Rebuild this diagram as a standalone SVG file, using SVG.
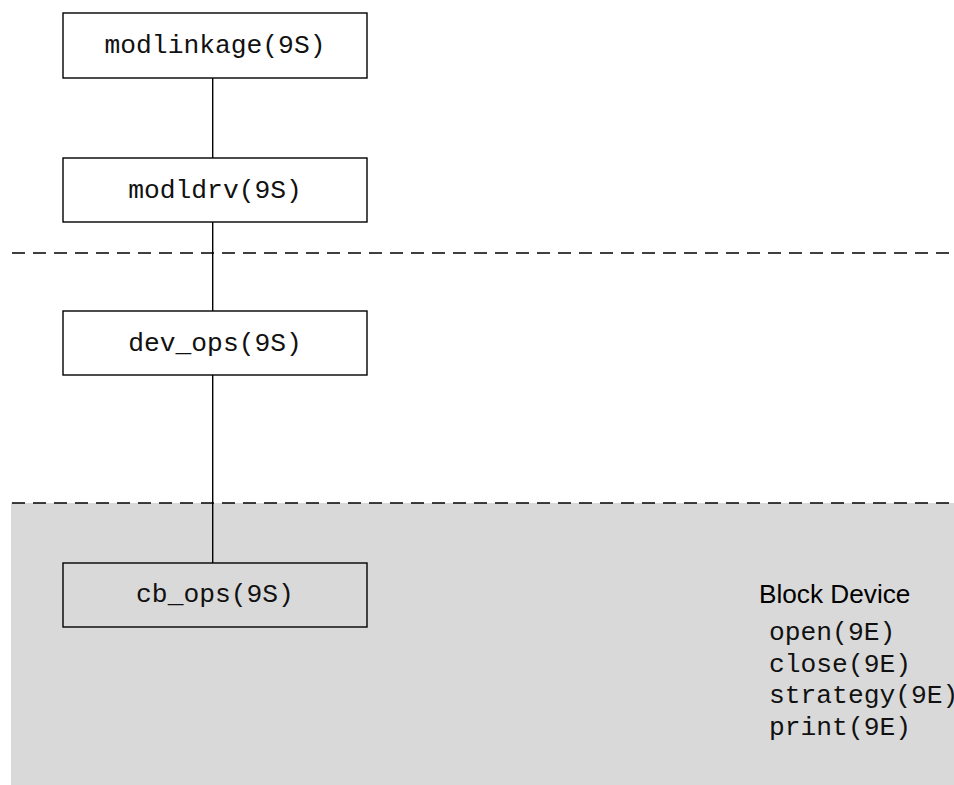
<svg xmlns="http://www.w3.org/2000/svg" width="954" height="785" viewBox="0 0 954 785">
<style>
.box{fill:#fff;stroke:#000;stroke-width:1.4}
.gbox{fill:#d9d9d9;stroke:#000;stroke-width:1.4}
.mono{font-family:"Liberation Mono","Courier New",monospace;font-size:26.3px;fill:#111}
.lbl{text-anchor:middle}
.sans{font-family:"Liberation Sans",Arial,sans-serif;font-size:26.2px;fill:#000}
.conn{stroke:#000;stroke-width:1.4;fill:none}
.dash{stroke:#000;stroke-width:1.5;stroke-dasharray:13 8;fill:none}
</style>
<rect width="954" height="785" fill="#fff"/>
<rect id="block-region" x="11" y="503" width="943" height="282" fill="#d9d9d9"/>
<g id="separators">
<line class="dash" x1="12" y1="253" x2="954" y2="253"/>
<line class="dash" x1="12" y1="503" x2="954" y2="503"/>
</g>
<g id="connectors">
<line class="conn" x1="212.7" y1="78" x2="212.7" y2="158"/>
<line class="conn" x1="212.7" y1="222" x2="212.7" y2="311"/>
<line class="conn" x1="212.7" y1="375" x2="212.7" y2="563"/>
</g>
<g id="modlinkage">
<rect class="box" x="63" y="13" width="304" height="65"/>
<text class="mono lbl" x="215" y="53">modlinkage(9S)</text>
</g>
<g id="modldrv">
<rect class="box" x="63" y="158" width="304" height="64"/>
<text class="mono lbl" x="215" y="198">modldrv(9S)</text>
</g>
<g id="dev_ops">
<rect class="box" x="63" y="311" width="304" height="64"/>
<text class="mono lbl" x="215" y="351">dev_ops(9S)</text>
</g>
<g id="cb_ops">
<rect class="gbox" x="63" y="563" width="304" height="64"/>
<text class="mono lbl" x="215" y="602">cb_ops(9S)</text>
</g>
<g id="block-device">
<text class="sans" x="759" y="603">Block Device</text>
<text class="mono" x="769" y="640">open(9E)</text>
<text class="mono" x="769" y="672">close(9E)</text>
<text class="mono" x="769" y="703">strategy(9E)</text>
<text class="mono" x="769" y="735">print(9E)</text>
</g>
</svg>
